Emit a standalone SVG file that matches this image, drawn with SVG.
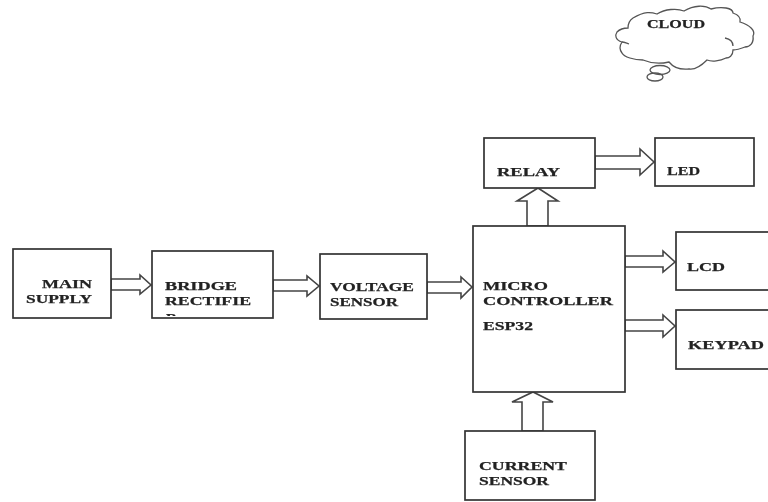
<svg xmlns="http://www.w3.org/2000/svg" width="768" height="502" viewBox="0 0 768 502">
<defs>
<style>
.b{fill:#fff;stroke:#333;stroke-width:1.7}
.a{fill:#fff;stroke:#444;stroke-width:1.6;stroke-linejoin:miter}
.c{fill:none;stroke:#555;stroke-width:1.3}
text{font-family:"Liberation Serif","Times New Roman",serif;font-weight:bold;font-size:13.5px;fill:#222;stroke:#222;stroke-width:.25}
</style>
<filter id="s" x="-2%" y="-2%" width="104%" height="104%"><feGaussianBlur stdDeviation="0.55"/></filter>
<clipPath id="rc"><rect x="153" y="252" width="119" height="64"/></clipPath>
</defs>
<rect width="768" height="502" fill="#fff"/>
<g filter="url(#s)">
<g id="cloud">
<path class="c" d="M633 18C645 11 651 12 657 14C665 9 677 8 684 11C694 5 705 5 711 9C722 6 733 8 733 13C739 15 741 18 740 22C750 25 756 31 753 36C754 43 750 47 745 47C740 49 736 50 733 50C733 56 729 58 726 58C720 61 712 62 707 60C702 65 695 70 689 69C680 70 673 67 669 62C660 64 650 63 643 60C634 60 624 57 622 53C619 49 620 45 622 42C615 40 615 35 617 32C620 29 624 28 628 28C628 24 630 20 633 18Z"/>
<path class="c" d="M725 38C730 39 733 42 733 46M629 44C626 43 624 42 622 42"/>
<ellipse class="c" cx="660" cy="70" rx="10" ry="4.5"/>
<ellipse class="c" cx="655" cy="77" rx="8" ry="4"/>
<text x="647" y="28" textLength="58" lengthAdjust="spacingAndGlyphs" style="font-size:11.5px">CLOUD</text>
</g>
<g id="connectors">
<path class="a" d="M111 279H140V275L151 285L140 294V290H111Z"/>
<path class="a" d="M273 280H307V276L319 286L307 296V291H273Z"/>
<path class="a" d="M427 282H461V277L472 287L461 298V293H427Z"/>
<path class="a" d="M595 156H640V149L654 162L640 175V169H595Z"/>
<path class="a" d="M527 226V201H517L538 188L558 201H548V226Z"/>
<path class="a" d="M625 256H663V251L675 262L663 272V267H625Z"/>
<path class="a" d="M625 320H663V315L675 326L663 337V331H625Z"/>
<path class="a" d="M522 431V402H512L533 392L553 402H543V431Z"/>
</g>
<g id="main-supply"><rect class="b" x="13" y="249" width="98" height="69"/>
<text x="42" y="287.500" textLength="50" lengthAdjust="spacingAndGlyphs">MAIN</text>
<text x="26" y="303" textLength="66" lengthAdjust="spacingAndGlyphs">SUPPLY</text></g>
<g id="bridge-rectifier"><rect class="b" x="152" y="251" width="121" height="67"/>
<text x="165" y="290" textLength="72" lengthAdjust="spacingAndGlyphs">BRIDGE</text>
<text x="165" y="305" textLength="86" lengthAdjust="spacingAndGlyphs">RECTIFIE</text>
<text x="166" y="322" textLength="11" lengthAdjust="spacingAndGlyphs" clip-path="url(#rc)">R</text></g>
<g id="voltage-sensor"><rect class="b" x="320" y="254" width="107" height="65"/>
<text x="330" y="291" textLength="84" lengthAdjust="spacingAndGlyphs">VOLTAGE</text>
<text x="330" y="306" textLength="68" lengthAdjust="spacingAndGlyphs">SENSOR</text></g>
<g id="microcontroller"><rect class="b" x="473" y="226" width="152" height="166"/>
<text x="483" y="290" textLength="65" lengthAdjust="spacingAndGlyphs">MICRO</text>
<text x="483" y="305" textLength="130" lengthAdjust="spacingAndGlyphs">CONTROLLER</text>
<text x="483" y="330" textLength="50" lengthAdjust="spacingAndGlyphs">ESP32</text></g>
<g id="relay"><rect class="b" x="484" y="138" width="111" height="50"/>
<text x="497" y="176" textLength="63" lengthAdjust="spacingAndGlyphs">RELAY</text></g>
<g id="led"><rect class="b" x="655" y="138" width="99" height="48"/>
<text x="667" y="175" textLength="33" lengthAdjust="spacingAndGlyphs">LED</text></g>
<g id="lcd"><rect class="b" x="676" y="232" width="100" height="58"/>
<text x="687" y="271" textLength="38" lengthAdjust="spacingAndGlyphs">LCD</text></g>
<g id="keypad"><rect class="b" x="676" y="310" width="100" height="59"/>
<text x="688" y="349" textLength="76" lengthAdjust="spacingAndGlyphs">KEYPAD</text></g>
<g id="current-sensor"><rect class="b" x="465" y="431" width="130" height="69"/>
<text x="479" y="470" textLength="88" lengthAdjust="spacingAndGlyphs">CURRENT</text>
<text x="479" y="485" textLength="70" lengthAdjust="spacingAndGlyphs">SENSOR</text></g>
</g>
</svg>
